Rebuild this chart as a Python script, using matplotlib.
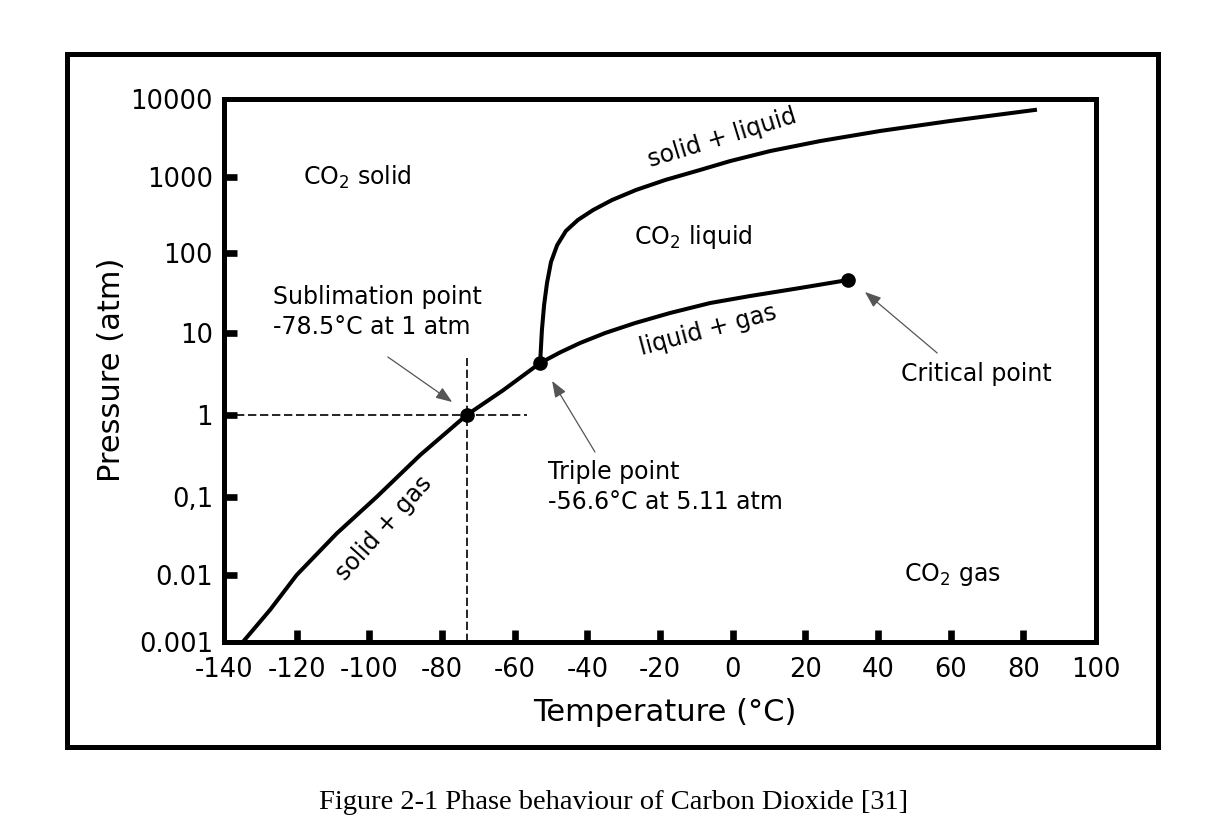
import numpy as np
import matplotlib.pyplot as plt
from matplotlib.patches import Rectangle

plt.rcParams['axes.unicode_minus'] = False
plt.rcParams['font.family'] = ['DejaVu Sans']

# axis ticks
temp_ticks = [-140, -120, -100, -80, -60, -40, -20, 0, 20, 40, 60, 80, 100]
pressure_ticks = [0.001, 0.01, 0.1, 1, 10, 100, 1000, 10000]
pressure_labels = ['0.001', '0.01', '0,1', '1', '10', '100', '1000', '10000']

# solid + gas boundary (sublimation curve)
sub_T = [-134.7, -127.3, -120.0, -109.0, -98.0, -86.0, -73.2, -63.2, -53.0]
sub_P = [0.001, 0.003, 0.01, 0.034, 0.1, 0.325, 1.0, 2.0, 4.3]

# liquid + gas boundary (boiling curve)
boil_T = [-53.0, -47.5, -42.0, -35.1, -26.9, -17.2, -6.2, 4.8, 18.5, 31.8]
boil_P = [4.3, 5.8, 7.55, 10.0, 13.3, 17.8, 23.7, 29.0, 36.5, 46.0]

# solid + liquid boundary (melting curve)
melt_T = [-53.0, -52.5, -51.9, -51.1, -50.0, -48.3, -45.9, -42.6, -38.4, -33.2, -26.6,
          -18.6, -9.0, -0.7, 10.3, 24.1, 40.6, 59.8, 83.2]
melt_P = [4.3, 10.9, 22.4, 42.2, 77.2, 127.0, 195.0, 272.0, 368.0, 498.0, 675.0,
          912.0, 1230.0, 1600.0, 2150.0, 2890.0, 3890.0, 5220.0, 7240.0]

# sublimation point, triple point, critical point
pt_T = [-73.2, -53.0, 31.8]
pt_P = [1.0, 4.3, 46.0]

# the hand drawn pressure axis has uneven decades; reproduce them with a scale
decade_log = [-12, -3, -2, -1, 0, 1, 2, 3, 4, 12]
decade_pos = [-697.5, 0, 66.5, 144.5, 226.5, 308.5, 388.5, 464.5, 542.5, 1162.5]


def p_forward(p):
    return np.interp(np.log10(np.clip(p, 1e-12, None)), decade_log, decade_pos)


def p_inverse(y):
    return 10.0 ** np.interp(y, decade_pos, decade_log)


fig = plt.figure(figsize=(12.27, 8.32), dpi=100)
ax = fig.add_axes([224 / 1227, 1 - 641.5 / 832, 872 / 1227, 542.5 / 832])

# outer box around the whole figure
fig.patches.append(Rectangle((0.0546, 0.1022), 0.8892, 0.8328, transform=fig.transFigure,
                             fill=False, lw=3.6, ec='black'))

ax.set_yscale('function', functions=(p_forward, p_inverse))
ax.set_xlim(-140, 100)
ax.set_ylim(0.001, 10000)

lw = 2.9
ax.plot(sub_T, sub_P, color='black', lw=lw, solid_joinstyle='round')
ax.plot(boil_T, boil_P, color='black', lw=lw, solid_joinstyle='round')
ax.plot(melt_T, melt_P, color='black', lw=lw, solid_joinstyle='round')
ax.plot(pt_T, pt_P, 'o', color='black', ms=9.5, zorder=5)

# guide lines to the sublimation point
ax.plot([-140, -56.6], [1, 1], color='black', lw=1.2, dashes=(5, 2.2))
ax.plot([-73.2, -73.2], [0.001, 5.0], color='black', lw=1.2, dashes=(5, 2.2))

ax.set_xticks(temp_ticks)
ax.set_yticks(pressure_ticks)
ax.set_yticklabels(pressure_labels)
ax.yaxis.set_minor_locator(plt.NullLocator())
ax.xaxis.set_minor_locator(plt.NullLocator())
ax.tick_params(direction='in', length=9, width=4.8, labelsize=18.5, color='black')
ax.tick_params(axis='x', pad=11)
ax.tick_params(axis='y', pad=8)
for t in [ax.xaxis.get_major_ticks()[0], ax.xaxis.get_major_ticks()[-1],
          ax.yaxis.get_major_ticks()[0], ax.yaxis.get_major_ticks()[-1]]:
    t.tick1line.set_visible(False)
for s in ax.spines.values():
    s.set_linewidth(3.6)

ax.set_xlabel('Temperature (°C)', fontsize=22)
ax.set_ylabel('Pressure (atm)', fontsize=22)
ax.xaxis.set_label_coords(0.506, -0.105)
ax.yaxis.set_label_coords(-0.112, 0.5)

fs = 17
ax.text(-118.3, 1000, 'CO$_2$ solid', fontsize=fs, va='center')
ax.text(-27.1, 160, 'CO$_2$ liquid', fontsize=fs, va='center')
ax.text(47.2, 0.01, 'CO$_2$ gas', fontsize=fs, va='center')
ax.text(-126.5, 18.3, 'Sublimation point\n-78.5°C at 1 atm', fontsize=fs, va='center', linespacing=1.3)
ax.text(-50.8, 0.132, 'Triple point\n-56.6°C at 5.11 atm', fontsize=fs, va='center', linespacing=1.3)
ax.text(46.3, 3.16, 'Critical point', fontsize=fs, va='center')

ax.text(-2.9, 3160, 'solid + liquid', fontsize=fs, rotation=17, ha='center', va='center')
ax.text(-6.8, 10.9, 'liquid + gas', fontsize=fs, rotation=15, ha='center', va='center')
ax.text(-96.0, 0.04, 'solid + gas', fontsize=fs, rotation=48, ha='center', va='center')

arrow = dict(arrowstyle='-|>,head_length=0.45,head_width=0.17', color='#555555', lw=0.9,
             mutation_scale=22, shrinkA=0, shrinkB=0)
ax.annotate('', xy=(-77.2, 1.44), xytext=(-94.9, 5.1), arrowprops=arrow)
ax.annotate('', xy=(-49.7, 2.6), xytext=(-37.9, 0.354), arrowprops=arrow)
ax.annotate('', xy=(36.4, 32.6), xytext=(56.3, 5.7), arrowprops=arrow)

fig.text(0.5, 0.035, 'Figure 2-1 Phase behaviour of Carbon Dioxide [31]', ha='center', va='center',
         fontsize=20.5, family='Liberation Serif')

fig.savefig('out.png', dpi=100)
